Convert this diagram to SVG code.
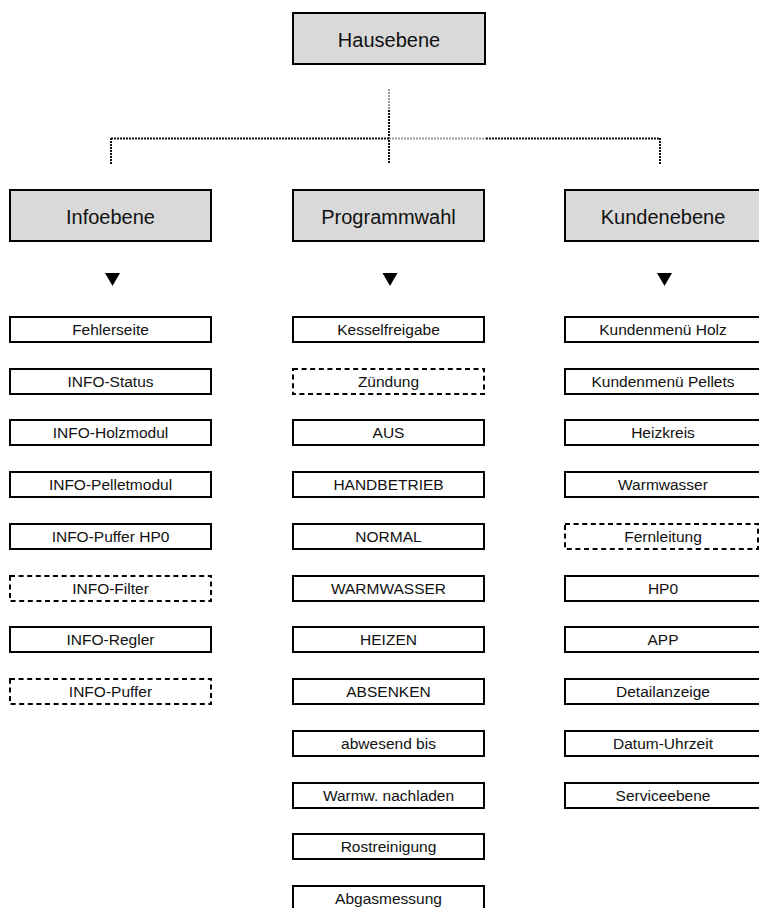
<svg xmlns="http://www.w3.org/2000/svg" width="759" height="908" viewBox="0 0 759 908">
<style>
.hdr{fill:#d9d9d9;stroke:#000;stroke-width:2}
.box{fill:#fff;stroke:#000;stroke-width:2}
.dash{fill:#fff;stroke:#000;stroke-width:2;stroke-dasharray:5 3.6}
.ht{font-family:"Liberation Sans",Arial,sans-serif;font-size:20px;fill:#111;text-anchor:middle}
.t{font-family:"Liberation Sans",Arial,sans-serif;font-size:15.5px;fill:#111;text-anchor:middle}
.con{fill:none;stroke:#111;stroke-width:2;stroke-dasharray:2 1}
.con2{fill:none;stroke:#999;stroke-width:2;stroke-dasharray:2 1}
.tri{fill:#000}
</style>
<rect width="759" height="908" fill="#fff"/>
<g id="connectors">
<path class="con2" d="M389,89 V110"/>
<path class="con" d="M389,110 V164"/>
<path class="con" d="M111,138.5 H389"/>
<path class="con2" d="M389,138.5 H486"/>
<path class="con" d="M486,138.5 H660"/>
<path class="con" d="M111,138 V164"/>
<path class="con" d="M660,138 V164"/>
<polygon class="tri" points="105,273 120,273 112.5,286"/>
<polygon class="tri" points="382.5,273 397.5,273 390,286"/>
<polygon class="tri" points="657,273 672,273 664.5,286"/>
</g>
<g id="hausebene"><rect class="hdr" x="293" y="13" width="192" height="51"/><text class="ht" x="389" y="46.5">Hausebene</text></g>
<g id="infoebene"><rect class="hdr" x="10" y="190" width="201" height="51"/><text class="ht" x="110.5" y="223.5">Infoebene</text></g>
<g id="programmwahl"><rect class="hdr" x="293" y="190" width="191" height="51"/><text class="ht" x="388.5" y="223.5">Programmwahl</text></g>
<g id="kundenebene"><rect class="hdr" x="565" y="190" width="196" height="51"/><text class="ht" x="663" y="223.5">Kundenebene</text></g>

<g id="fehlerseite"><rect class="box" x="10" y="317" width="201" height="25"/><text class="t" x="110.5" y="334.5">Fehlerseite</text></g>
<g id="info-status"><rect class="box" x="10" y="369" width="201" height="25"/><text class="t" x="110.5" y="386.5">INFO-Status</text></g>
<g id="info-holzmodul"><rect class="box" x="10" y="420" width="201" height="25"/><text class="t" x="110.5" y="437.5">INFO-Holzmodul</text></g>
<g id="info-pelletmodul"><rect class="box" x="10" y="472" width="201" height="25"/><text class="t" x="110.5" y="489.5">INFO-Pelletmodul</text></g>
<g id="info-puffer-hp0"><rect class="box" x="10" y="524" width="201" height="25"/><text class="t" x="110.5" y="541.5">INFO-Puffer HP0</text></g>
<g id="info-filter"><rect class="dash" x="10" y="576" width="201" height="25"/><text class="t" x="110.5" y="593.5">INFO-Filter</text></g>
<g id="info-regler"><rect class="box" x="10" y="627" width="201" height="25"/><text class="t" x="110.5" y="644.5">INFO-Regler</text></g>
<g id="info-puffer"><rect class="dash" x="10" y="679" width="201" height="25"/><text class="t" x="110.5" y="696.5">INFO-Puffer</text></g>

<g id="kesselfreigabe"><rect class="box" x="293" y="317" width="191" height="25"/><text class="t" x="388.5" y="334.5">Kesselfreigabe</text></g>
<g id="zuendung"><rect class="dash" x="293" y="369" width="191" height="25"/><text class="t" x="388.5" y="386.5">Zündung</text></g>
<g id="aus"><rect class="box" x="293" y="420" width="191" height="25"/><text class="t" x="388.5" y="437.5">AUS</text></g>
<g id="handbetrieb"><rect class="box" x="293" y="472" width="191" height="25"/><text class="t" x="388.5" y="489.5">HANDBETRIEB</text></g>
<g id="normal"><rect class="box" x="293" y="524" width="191" height="25"/><text class="t" x="388.5" y="541.5">NORMAL</text></g>
<g id="warmwasser-prog"><rect class="box" x="293" y="576" width="191" height="25"/><text class="t" x="388.5" y="593.5">WARMWASSER</text></g>
<g id="heizen"><rect class="box" x="293" y="627" width="191" height="25"/><text class="t" x="388.5" y="644.5">HEIZEN</text></g>
<g id="absenken"><rect class="box" x="293" y="679" width="191" height="25"/><text class="t" x="388.5" y="696.5">ABSENKEN</text></g>
<g id="abwesend"><rect class="box" x="293" y="731" width="191" height="25"/><text class="t" x="388.5" y="748.5">abwesend bis</text></g>
<g id="warmw-nachladen"><rect class="box" x="293" y="783" width="191" height="25"/><text class="t" x="388.5" y="800.5">Warmw. nachladen</text></g>
<g id="rostreinigung"><rect class="box" x="293" y="834" width="191" height="25"/><text class="t" x="388.5" y="851.5">Rostreinigung</text></g>
<g id="abgasmessung"><rect class="box" x="293" y="886" width="191" height="25"/><text class="t" x="388.5" y="903.5">Abgasmessung</text></g>

<g id="kundenmenue-holz"><rect class="box" x="565" y="317" width="196" height="25"/><text class="t" x="663" y="334.5">Kundenmenü Holz</text></g>
<g id="kundenmenue-pellets"><rect class="box" x="565" y="369" width="196" height="25"/><text class="t" x="663" y="386.5">Kundenmenü Pellets</text></g>
<g id="heizkreis"><rect class="box" x="565" y="420" width="196" height="25"/><text class="t" x="663" y="437.5">Heizkreis</text></g>
<g id="warmwasser"><rect class="box" x="565" y="472" width="196" height="25"/><text class="t" x="663" y="489.5">Warmwasser</text></g>
<g id="fernleitung"><rect class="dash" x="565" y="524" width="193" height="25"/><text class="t" x="663" y="541.5">Fernleitung</text></g>
<g id="hp0"><rect class="box" x="565" y="576" width="196" height="25"/><text class="t" x="663" y="593.5">HP0</text></g>
<g id="app"><rect class="box" x="565" y="627" width="196" height="25"/><text class="t" x="663" y="644.5">APP</text></g>
<g id="detailanzeige"><rect class="box" x="565" y="679" width="196" height="25"/><text class="t" x="663" y="696.5">Detailanzeige</text></g>
<g id="datum-uhrzeit"><rect class="box" x="565" y="731" width="196" height="25"/><text class="t" x="663" y="748.5">Datum-Uhrzeit</text></g>
<g id="serviceebene"><rect class="box" x="565" y="783" width="196" height="25"/><text class="t" x="663" y="800.5">Serviceebene</text></g>
</svg>
